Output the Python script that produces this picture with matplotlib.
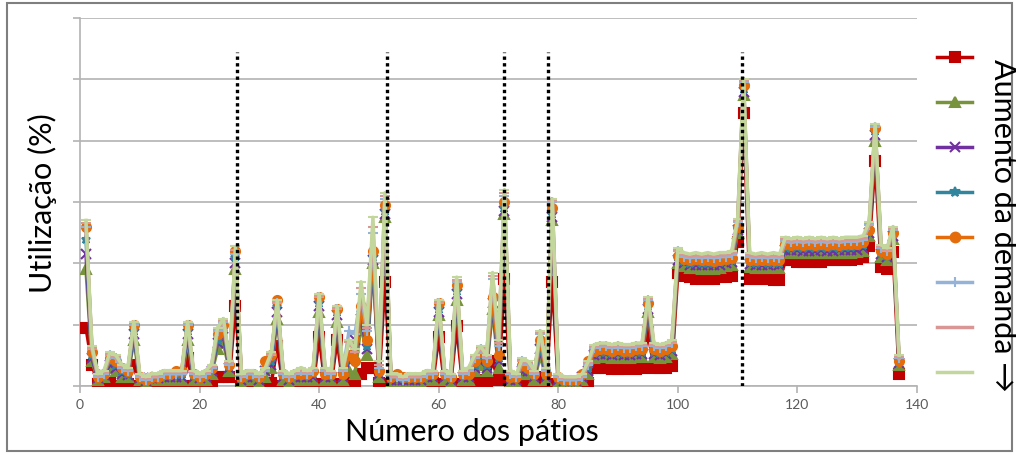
import matplotlib
matplotlib.use("Agg")
import matplotlib.pyplot as plt
from matplotlib.lines import Line2D
from matplotlib.patches import Rectangle

plt.rcParams["font.family"] = ["Lato", "DejaVu Sans"]

# pátio number (x) and utilisation (%) for 8 demand levels, lowest demand first
patios = list(range(1, 138))

s1 = [19, 7, 0.5, 0.5, 1, 0, 0, 0.5, 7, 0,
      0, 0, 0.5, 0.5, 0.5, 0, 0, 9, 0, 0.5,
      0.5, 1, 3, 3, 3, 26, 0, 0, 0.5, 0,
      0, 1, 13, 0, 0, 0.5, 0.5, 0.5, 0.5, 16,
      0.5, 0.5, 15, 0.5, 1, 1, 4, 6, 6, 1,
      34, 0.5, 0.5, 0.5, 0.5, 0.5, 0.5, 1, 1, 16,
      0.5, 0.5, 19.5, 0.5, 0.5, 1, 2, 1, 8, 2,
      35, 0.5, 0.5, 0.5, 1, 0.5, 3, 0.5, 34, 0.5,
      0.5, 0.5, 0.5, 0.5, 1, 6, 6, 6, 5.5, 5.5,
      5.5, 6, 5.5, 6, 17.5, 6, 6, 6, 6.5, 37,
      36, 35.5, 35, 35, 35, 35, 35.5, 35.5, 36, 47,
      89, 35, 35, 35, 35, 34.5, 34.5, 41, 41, 40.5,
      40.5, 40.5, 40.5, 40.5, 41, 41, 41, 41, 41, 41.5,
      42, 45.7, 73.4, 38.8, 38, 43.7, 3.9]

s2 = [38, 8, 2, 3, 6, 5, 3, 3, 15, 2,
      1, 2, 2, 2, 2, 2, 2, 15, 2, 2,
      2, 4, 12, 14, 5, 38, 1, 2, 2, 1,
      3, 6, 22, 2, 1, 2, 2, 2, 2, 24,
      2, 2, 21, 2, 5, 4, 20, 10, 40, 3,
      55, 1, 1, 1, 1, 1, 1, 2, 2, 23,
      2, 1, 28, 2, 2, 5, 7, 5, 25, 6,
      56, 1, 1, 4, 4, 2, 10, 2, 54, 1,
      1, 1, 1, 2, 4, 9, 9.5, 9.5, 9, 9.5,
      9, 9, 9.5, 9.5, 24, 9.5, 9, 9.5, 10.5, 40,
      39, 38.5, 38.5, 38.3, 38.3, 38.3, 38.5, 39, 39.3, 50,
      95, 38.8, 38.5, 38.5, 38.5, 38.8, 38.5, 43.7, 43.5, 43.5,
      43.3, 43.3, 43.3, 43.5, 43.3, 43.3, 43.5, 43.5, 43.5, 43.7,
      44, 49, 80, 42, 41, 48, 7]

s3 = [43, 9, 2.5, 3.5, 7, 6, 4, 3.5, 17, 2.5,
      1.5, 2.5, 2.5, 3, 3, 3, 3, 17, 3, 2.5,
      3, 5, 14, 16, 6, 40, 2, 3, 3, 2,
      5, 7, 24, 3, 2, 3, 3, 3, 3, 26,
      3, 3, 23, 3, 8, 15, 22, 12, 41, 4,
      56, 2, 2, 2, 2, 2, 2, 3, 3, 24,
      3, 2, 30, 3, 3, 6, 8, 6, 27, 8,
      57, 2, 2, 5, 5, 3, 12, 3, 55, 2,
      1.5, 1.5, 1.5, 3, 5, 10, 10.5, 10.5, 10, 10.5,
      10, 10, 10.5, 10.5, 25, 10.5, 10, 10.5, 11.5, 41,
      40, 39.5, 39.5, 39.3, 39.3, 39.3, 39.5, 40, 40.3, 51,
      96, 39.8, 39.5, 39.5, 39.5, 39.8, 39.5, 44.5, 44.3, 44.3,
      44.1, 44.1, 44.1, 44.3, 44.1, 44.1, 44.3, 44.3, 44.3, 44.5,
      45, 50, 82, 43, 42, 49, 7.5]

s4 = [48, 10, 3, 4, 8, 7, 5, 4, 18, 3,
      2, 3, 3, 3.5, 3.5, 4, 4, 18, 3.5, 3,
      3.5, 5.5, 15, 18, 6.5, 42, 2.5, 3.5, 3.5, 2.5,
      6, 8, 26, 3.5, 2.5, 3.5, 3.5, 3.5, 4, 27,
      3.5, 3.5, 24, 3.5, 9, 14, 24, 13, 42, 4.5,
      57, 2.5, 3, 2.5, 2.5, 2.5, 2.5, 3.5, 3.5, 25,
      3.5, 2.5, 31, 3.5, 3.5, 7, 9, 7, 28, 9,
      58, 2.5, 2.5, 6, 5.5, 3.5, 13, 3.5, 56, 2.5,
      1.5, 1.5, 1.5, 3.5, 6, 10.8, 11.2, 11.2, 10.8, 11.2,
      10.8, 10.8, 11.2, 11.2, 26, 11.2, 10.8, 11.2, 12.2, 42,
      40.7, 40.2, 40.4, 40.1, 40.1, 40, 40.3, 40.7, 41, 51.5,
      97, 40.5, 40.2, 40.3, 40.2, 40.5, 40.2, 45.4, 45.1, 45.3,
      45, 45.2, 45, 45.3, 45, 45.2, 45.1, 45.4, 45.4, 45.5,
      46, 50.5, 83, 43.5, 42.5, 49.5, 7.8]

s5 = [52, 11, 3, 4, 9, 8, 6, 5, 20, 3,
      2, 3, 3, 4, 4, 5, 5, 20, 4, 3,
      4, 6, 17, 20, 7, 44, 3, 4, 4, 3,
      8, 10, 28, 4, 3, 4, 4, 4, 5, 29,
      4, 4, 25, 4, 10, 8, 26, 15, 44, 5,
      59, 3, 4, 3, 3, 3, 3, 4, 4, 27,
      4, 3, 33, 4, 4, 8, 11, 8, 29, 10,
      60, 3, 3, 7, 6, 4, 15, 4, 58, 3,
      2, 2, 2, 4, 8, 11.5, 12, 12, 11.5, 12,
      11.5, 11.5, 12, 12, 27, 12, 11.5, 12, 13, 42.5,
      41.4, 41, 41.4, 41, 41, 40.8, 41.2, 41.4, 41.8, 52,
      98, 41.2, 41, 41.2, 41, 41.2, 41, 46.3, 46, 46.3,
      46, 46.3, 46, 46.3, 46, 46.3, 46, 46.3, 46.3, 46.3,
      46.8, 51, 84, 44, 43, 50, 8]

s6 = [52, 12, 3, 4, 10, 9, 6, 5, 20, 3,
      2, 3, 3, 4, 4, 4, 4, 20, 4, 3,
      4, 6, 18, 21, 7, 43, 3, 4, 4, 3,
      5, 10, 27, 4, 3, 4, 5, 4, 5, 29,
      5, 4, 25, 5, 18, 17, 30, 18, 50, 6,
      61, 3, 3, 2, 3, 3, 3, 4, 4, 27,
      4, 3, 34, 4, 5, 9, 12, 9, 35, 13,
      62, 4, 3, 8, 7, 4, 17, 5, 60, 3,
      2, 2, 2, 3, 7, 12.5, 13, 13, 12.5, 13,
      12.5, 12.5, 13, 13, 28, 13, 12.5, 13, 14, 44,
      42.2, 41.8, 42.2, 41.8, 42.2, 41.8, 42.2, 42.2, 42.7, 53.5,
      99, 42.2, 41.8, 42.2, 41.8, 42.2, 41.8, 47.2, 46.8, 47.2,
      46.8, 47.2, 46.8, 47.2, 46.8, 47.2, 46.8, 47.2, 47.2, 47.2,
      47.7, 52.5, 84.5, 45, 44, 51, 9]

s7 = [53, 12.5, 3.5, 4.5, 10.5, 9.5, 6.5, 5.5, 20.5, 3.5,
      2.5, 3.5, 3.5, 4.5, 4.5, 4.5, 4.5, 20.5, 4.5, 3.5,
      4.5, 6.5, 18.5, 21.5, 7.5, 44.5, 3.5, 4.5, 4.5, 3.5,
      5.5, 10.5, 27.5, 4.5, 3.5, 4.5, 5.5, 4.5, 5.5, 29.5,
      5.5, 4.5, 25.5, 5.5, 14.5, 11, 32, 19, 52, 7,
      62, 3.5, 3.5, 2.5, 3.5, 3.5, 3.5, 4.5, 4.5, 27.5,
      4.5, 3.5, 34.5, 4.5, 5.5, 9.5, 12.5, 9.5, 36, 14,
      63, 4.5, 3.5, 8.5, 7.5, 4.5, 17.5, 5.5, 60.5, 3.5,
      2.5, 2.5, 2.5, 3.5, 7.5, 13, 13.5, 13.5, 13, 13.5,
      13, 13, 13.5, 13.5, 28.5, 13.5, 13, 13.5, 14.5, 44.5,
      42.8, 42.3, 42.8, 42.3, 42.8, 42.3, 42.8, 42.8, 43.3, 54,
      99.5, 42.8, 42.3, 42.8, 42.3, 42.8, 42.3, 47.8, 47.3, 47.8,
      47.3, 47.8, 47.3, 47.8, 47.3, 47.8, 47.3, 47.8, 47.8, 47.8,
      48.3, 53, 85, 45.5, 44.5, 51.5, 9.5]

s8 = [54, 13, 4, 5, 11, 10, 7, 6, 21, 4,
      3, 4, 4, 5, 5, 5, 5, 21, 5, 4,
      5, 7, 19, 22, 8, 45.5, 4, 5, 5, 4,
      6, 11, 28, 5, 4, 5, 6, 5, 6, 30,
      6, 5, 26, 6, 15, 12, 34, 20, 55, 8,
      63, 4, 4, 3, 4, 4, 4, 5, 5, 28,
      5, 4, 35.5, 5, 6, 10, 13, 10, 37, 15,
      64, 5, 4, 9, 8, 5, 18, 6, 61, 4,
      3, 3, 3, 4, 8, 13.5, 14, 14, 13.5, 14,
      13.5, 13.5, 14, 14, 29, 14, 13.5, 14, 15, 45,
      43.5, 43, 43.5, 43, 43.5, 43, 43.5, 43.5, 44, 54.5,
      100, 43.5, 43, 43.5, 43, 43.5, 43, 48.5, 48, 48.5,
      48, 48.5, 48, 48.5, 48, 48.5, 48, 48.5, 48.5, 48.5,
      49, 53.5, 85.5, 46, 45, 52, 10]

series = [s1, s2, s3, s4, s5, s6, s7, s8]
colors = ["#C00000", "#77933C", "#7030A0", "#31859C",
          "#E46C0A", "#95B3D7", "#D99694", "#C3D69B"]
markers = ["s", "^", "x", "*", "o", "+", "_", "_"]

# marked pátios (dotted verticals) and their height
vline_x = [26.2, 51.3, 71, 78.3, 110.8]
vline_top = 109

GRID = "#b3b3b3"
TICK = "#595959"

fig = plt.figure(figsize=(10.16, 4.56), dpi=100)
fig.add_artist(Rectangle((7 / 1016, 4 / 456), 1005 / 1016, 448 / 456,
                         transform=fig.transFigure, fill=False,
                         edgecolor="#7f7f7f", lw=1.5))
ax = fig.add_axes([80 / 1016, 69 / 456, 837 / 1016, 368 / 456])

for ys, c, m in zip(series, colors, markers):
    ax.plot(patios, ys, color=c, lw=2.5, marker=m, ms=6.5, mew=1.5,
            mec=c, mfc=c, zorder=3)

for xv in vline_x:
    ax.plot([xv, xv], [0, vline_top], color="black", ls=(0, (1, 1)),
            lw=2.4, zorder=4)

ax.set_xlim(0, 140)
ax.set_ylim(0, 120)
ax.set_xticks(range(0, 141, 20))
ax.set_yticks(range(0, 121, 20))
ax.set_yticklabels([])
ax.yaxis.grid(True, color=GRID, lw=1.2, zorder=0)
ax.set_axisbelow(True)
for s in ("top", "right"):
    ax.spines[s].set_visible(False)
for s in ("left", "bottom"):
    ax.spines[s].set_color(GRID)
    ax.spines[s].set_linewidth(1.2)
ax.tick_params(axis="both", direction="out", length=5, color=GRID,
               width=1.2, labelsize=10, labelcolor=TICK)
ax.set_xlabel("Número dos pátios", fontsize=22)
ax.xaxis.set_label_coords((472 - 80) / 837, -0.085)
ax.set_ylabel("Utilização (%)", fontsize=22)
ax.yaxis.set_label_coords(-0.028, 0.5)

# legend: markers only, no labels
leg_y = [58, 103, 148, 193, 238, 283, 328, 373]
for yp, c, m in zip(leg_y, colors, markers):
    yf = 1 - yp / 456
    fig.add_artist(Line2D([937 / 1016, 954.5 / 1016, 972 / 1016], [yf, yf, yf],
                          transform=fig.transFigure, color=c, lw=2.5,
                          marker=m, markevery=[1], ms=7, mew=1.5, mec=c, mfc=c))

fig.text(1003 / 1016, 1 - 225 / 456, "Aumento da demanda →", rotation=-90,
         ha="center", va="center", fontsize=22)

fig.savefig("out.png", dpi=100)
